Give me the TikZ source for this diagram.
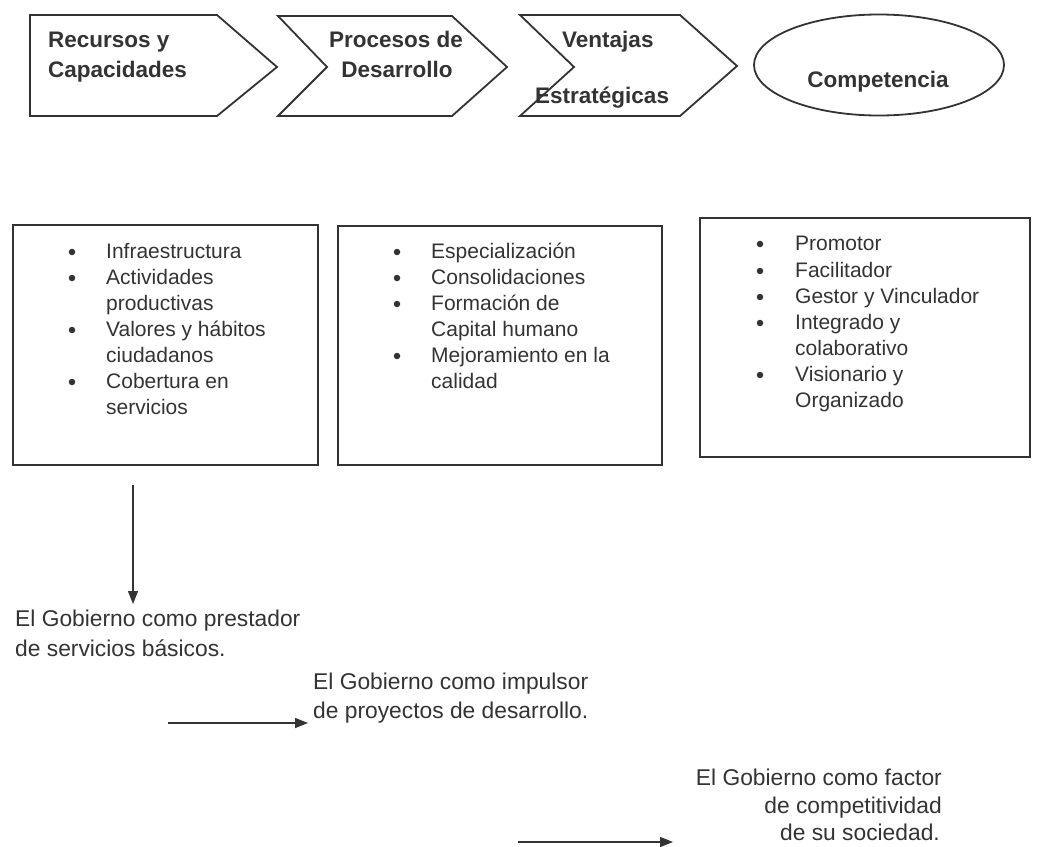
\documentclass[tikz,border=0pt]{standalone}
\usepackage{fontspec}
\setmainfont{Liberation Sans}
\usetikzlibrary{arrows.meta,shapes.geometric}
\definecolor{ink}{HTML}{333333}

\begin{document}
\begin{tikzpicture}[x=1pt,y=-1pt,
  shapeline/.style={draw=ink, line width=1.8pt, line join=miter},
  head/.style={font=\fontsize{22.5}{30}\selectfont\bfseries, text=ink, inner sep=0pt},
  item/.style={font=\fontsize{21}{26}\selectfont, text=ink, inner sep=0pt, anchor=base west},
  dot/.style={circle, fill=ink, inner sep=0pt, minimum size=6.5pt},
  note/.style={font=\fontsize{22.8}{29}\selectfont, text=ink, inner sep=0pt},
  flow/.style={draw=ink, line width=1.4pt, -{Triangle[length=13pt,width=10pt]}}]

\useasboundingbox (0,0) rectangle (1052,846);

% value chain: three chevrons and the goal ellipse
\draw[shapeline] (30,15) -- (217,15) -- (277,67) -- (217,116) -- (30,116) -- cycle;
\draw[shapeline] (278,16) -- (452,16) -- (507,67) -- (452,116) -- (278,116) -- (327,67) -- cycle;
\draw[shapeline] (520,15) -- (680,15) -- (737,66) -- (680,116) -- (520,116) -- (574,67) -- cycle;
\node[shapeline, ellipse, minimum width=250pt, minimum height=101pt, inner sep=0pt] (comp) at (879,65) {};

\node[head, anchor=base west] (rec1) at (48,47) {Recursos y};
\node[head, anchor=base west] (rec2) at (48,77) {Capacidades};
\node[head, anchor=base] (pro1) at (396,47) {Procesos de};
\node[head, anchor=base] (pro2) at (397,77) {Desarrollo};
\node[head, anchor=base west] (ven1) at (562,47) {Ventajas};
\node[head, anchor=base west] (ven2) at (535,103) {Estratégicas};
\node[head, anchor=base] (comptext) at (878,87) {Competencia};

% content boxes
\node[shapeline, rectangle, minimum width=305pt, minimum height=240pt, inner sep=0pt] (box1) at (165.5,345) {};
\node[shapeline, rectangle, minimum width=324pt, minimum height=239pt, inner sep=0pt] (box2) at (500,345.5) {};
\node[shapeline, rectangle, minimum width=330pt, minimum height=239pt, inner sep=0pt] (box3) at (865,337.5) {};

% box 1 items
\foreach \y/\t [count=\n] in {258/Infraestructura, 284/Actividades, 310/productivas,
    336/Valores y hábitos, 362/ciudadanos, 388/Cobertura en, 414/servicios}
  \node[item] (ia\n) at (106,\y) {\t};
\foreach \y [count=\n] in {258,284,336,388}
  \node[dot] (da\n) at (72,\y-6) {};

% box 2 items
\foreach \y/\t [count=\n] in {258/Especialización, 284/Consolidaciones, 310/Formación de,
    336/Capital humano, 362/Mejoramiento en la, 388/calidad}
  \node[item] (ib\n) at (431,\y) {\t};
\foreach \y [count=\n] in {258,284,310,362}
  \node[dot] (db\n) at (397,\y-6) {};

% box 3 items
\foreach \y/\t [count=\n] in {250/Promotor, 277/Facilitador, 303/Gestor y Vinculador,
    329/Integrado y, 355/colaborativo, 381/Visionario y, 407/Organizado}
  \node[item] (ic\n) at (795,\y) {\t};
\foreach \y [count=\n] in {250,277,303,329,381}
  \node[dot] (dc\n) at (760,\y-6) {};

% roles of government
\node[note, anchor=base west] (g1a) at (15,626) {El Gobierno como prestador};
\node[note, anchor=base west] (g1b) at (15,656) {de servicios básicos.};
\node[note, anchor=base west] (g2a) at (313,689) {El Gobierno como impulsor};
\node[note, anchor=base west] (g2b) at (313,718) {de proyectos de desarrollo.};
\node[note, anchor=base east] (g3a) at (942,785) {El Gobierno como factor};
\node[note, anchor=base east] (g3b) at (942,813) {de competitividad};
\node[note, anchor=base east] (g3c) at (940,840) {de su sociedad.};

% arrows
\coordinate (a1s) at (133,485);
\coordinate (a1e) at (133,604);
\coordinate (a2s) at (168,723);
\coordinate (a2e) at (308,723);
\coordinate (a3s) at (518,842);
\coordinate (a3e) at (673,842);
\draw[flow] (a1s) -- (a1e);
\draw[flow] (a2s) -- (a2e);
\draw[flow] (a3s) -- (a3e);
\end{tikzpicture}
\end{document}
